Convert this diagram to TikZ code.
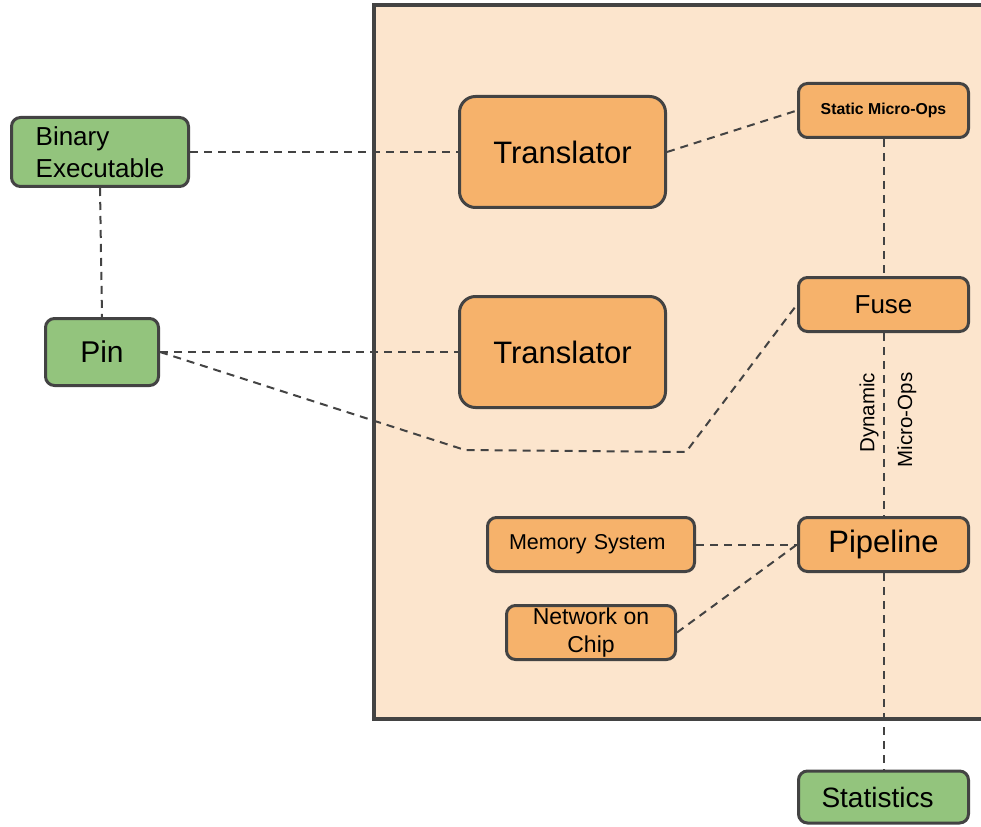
\documentclass[tikz,border=0pt]{standalone}
\usepackage{fontspec}
\setmainfont{Liberation Sans}
\definecolor{boxline}{HTML}{434343}
\definecolor{greenfill}{HTML}{93C47D}
\definecolor{orangefill}{HTML}{F6B26B}
\definecolor{simbg}{HTML}{FCE5CD}
\tikzset{
  base/.style={draw=boxline, line width=3pt, rounded corners=9pt, inner sep=0pt, text=black},
  greenbox/.style={base, fill=greenfill},
  orangebox/.style={base, fill=orangefill},
  bigbox/.style={orangebox, rounded corners=16pt, minimum width=206pt, minimum height=111pt, font=\fontsize{31}{36}\selectfont},
  smallbox/.style={orangebox, minimum width=170pt, minimum height=54pt},
  link/.style={draw=boxline, line width=2pt, dash pattern=on 8pt off 6pt},
}
\begin{document}
\begin{tikzpicture}[x=1pt, y=-1pt]
\useasboundingbox (0,0) rectangle (981,826);
\begin{scope}
\clip (0,0) rectangle (981,826);
% simulator frame, open to the right
\draw[draw=boxline, line width=4pt, fill=simbg] (373.7,5.3) rectangle (1000,719);

% inputs
\node[greenbox, minimum width=177pt, minimum height=69pt, align=left,
      font=\fontsize{26}{31.7}\selectfont] (bin) at (100,152) {Binary\\Executable};
\node[greenbox, minimum width=113pt, minimum height=67pt,
      font=\fontsize{30}{36}\selectfont] (pin) at (102,352) {Pin};

% translators
\node[bigbox] (tr1) at (562.5,152) {Translator};
\node[bigbox] (tr2) at (562.5,352) {Translator};

% micro-op chain
\node[smallbox, font=\bfseries\fontsize{15.8}{19}\selectfont] (sop) at (883.5,110.5) {Static Micro-Ops};
\node[smallbox, font=\fontsize{26}{30}\selectfont] (fuse) at (883.5,304.5) {Fuse};
\node[smallbox, font=\fontsize{31}{36}\selectfont] (pipe) at (883.5,544.5) {Pipeline};

% memory and interconnect
\node[orangebox, minimum width=207pt, minimum height=54pt, text width=164pt, align=left,
      inner xsep=21pt, font=\fontsize{21.5}{26}\selectfont] (mem) at (591,544.5) {Memory System};
\node[orangebox, minimum width=169pt, minimum height=54pt, align=center,
      font=\fontsize{23}{27.3}\selectfont] (noc) at (591,632.5) {Network on\\Chip};

% output
\node[greenbox, minimum width=170pt, minimum height=52pt,
      font=\fontsize{28}{32}\selectfont] (stats) at (883.5,797) {\hspace{-12pt}Statistics};

% bends of the Pin-to-Fuse path
\coordinate (bendA) at (465,450);
\coordinate (bendB) at (686,452);

% connectors
\draw[link] (bin.east) -- (tr1.west);
\draw[link] (bin.south) -- (pin.north);
\draw[link] (pin.east) -- (tr2.west);
\draw[link] (pin.east) -- (bendA) -- (bendB) -- (fuse.west);
\draw[link] (tr1.east) -- (sop.west);
\draw[link] (sop.south) -- (fuse.north);
\draw[link] (fuse.south) -- (pipe.north);
\draw[link] (mem.east) -- (pipe.west);
\draw[link] (noc.east) -- (pipe.west);
\draw[link] (pipe.south) -- (stats.north);

% label on the fuse-to-pipeline link
\node[rotate=90, align=right, inner sep=0pt, font=\fontsize{20.5}{37.7}\selectfont] (dynlbl)
  at (888,420) {Dynamic\\Micro-Ops};
\end{scope}
\end{tikzpicture}
\end{document}
